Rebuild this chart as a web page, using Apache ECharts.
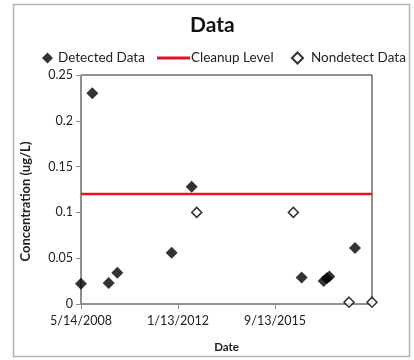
<!DOCTYPE html>
<html>
<head>
<meta charset="utf-8">
<script src="https://cdn.jsdelivr.net/npm/echarts@6/dist/echarts.min.js"></script>
<style>html,body{margin:0;padding:0;background:#fff}#c{width:414px;height:360px}</style>
</head>
<body>
<div id="c"></div>
<script>
const baseDate = '2008-05-14';
const detectedDates = ['2008-05-14','2008-10-17','2009-05-31','2009-09-27','2011-10-18','2012-07-20','2016-09-15','2017-07-16','2017-08-27','2017-10-02','2018-09-21'];
const detectedValues = [0.022,0.23,0.023,0.034,0.056,0.128,0.029,0.025,0.028,0.030,0.061];
const nondetectDates = ['2012-09-27','2016-05-23','2018-07-01','2019-05-14'];
const nondetectValues = [0.1,0.1,0.002,0.002];
const cleanupLevel = 0.12;
const cleanupDates = ['2008-05-14','2019-05-14'];
const xTickDays = 1339;

const DAY = 86400000;
const baseMs = Date.parse(baseDate + 'T00:00:00Z');
const toDay = s => Math.round((Date.parse(s + 'T00:00:00Z') - baseMs) / DAY);
const fmt = v => { const d = new Date(baseMs + v * DAY); return (d.getUTCMonth()+1) + '/' + d.getUTCDate() + '/' + d.getUTCFullYear(); };
const xMax = toDay(cleanupDates[1]);
const FONT = 'Lato';

const chart = echarts.init(document.getElementById('c'), null, {renderer:'canvas'});
chart.setOption({
  backgroundColor: '#fff',
  animation: false,
  title: { text: 'Data', left: 185, top: 10, textStyle: { fontFamily: FONT, fontSize: 21, fontWeight: 'bold', color: '#111' } },
  legend: [
    { data: ['Detected Data'], left: 37, top: 46, itemWidth: 11, itemHeight: 11, itemGap: 6, textStyle: { fontFamily: FONT, fontSize: 13.5, color: '#222' } },
    { data: [{ name: 'Cleanup Level', icon: 'rect' }], left: 152, top: 46, itemWidth: 33, itemHeight: 3, textStyle: { fontFamily: FONT, fontSize: 13.5, color: '#222', padding: [0,0,0,-4] } },
    { data: ['Nondetect Data'], left: 286, top: 46, itemWidth: 11, itemHeight: 11, textStyle: { fontFamily: FONT, fontSize: 13.5, color: '#222', padding: [0,0,0,3] } }
  ],
  graphic: [{ type: 'rect', shape: { x: 13.5, y: 4.5, width: 396, height: 352 }, style: { fill: 'none', stroke: '#b4b4b4', lineWidth: 1.5 }, silent: true }],
  grid: { left: 81, right: 42, top: 75, bottom: 56, show: true, borderColor: '#222', borderWidth: 1, backgroundColor: 'transparent' },
  xAxis: {
    type: 'value', min: 0, max: xMax, interval: xTickDays,
    name: 'Date', nameLocation: 'middle', nameGap: 37,
    nameTextStyle: { fontFamily: FONT, fontSize: 11.5, fontWeight: 'bold', color: '#222' },
    axisLine: { show: true, lineStyle: { color: '#8c8c8c', width: 1 } },
    axisTick: { show: true, length: 5, lineStyle: { color: '#8c8c8c' } },
    splitLine: { show: false },
    axisLabel: { formatter: fmt, showMaxLabel: false, fontFamily: FONT, fontSize: 12.5, color: '#222', margin: 10 }
  },
  yAxis: {
    type: 'value', min: 0, max: 0.25, interval: 0.05,
    name: 'Concentration (ug/L)', nameLocation: 'middle', nameGap: 49,
    nameTextStyle: { fontFamily: FONT, fontSize: 13, fontWeight: 'bold', color: '#222', padding: [0, 24, 0, 0] },
    axisLine: { show: true, lineStyle: { color: '#8c8c8c', width: 1 } },
    axisTick: { show: true, length: 5, lineStyle: { color: '#8c8c8c' } },
    splitLine: { show: false },
    axisLabel: { fontFamily: FONT, fontSize: 12.5, color: '#222', margin: 8 }
  },
  series: [
    { name: 'Detected Data', type: 'scatter', symbol: 'diamond', symbolSize: 12, itemStyle: { color: '#000' },
      data: detectedDates.map((d, i) => [toDay(d), detectedValues[i]]) },
    { name: 'Cleanup Level', type: 'line', symbol: 'none', lineStyle: { color: '#e8141c', width: 2.5 }, itemStyle: { color: '#e8141c' },
      data: cleanupDates.map(d => [toDay(d), cleanupLevel]) },
    { name: 'Nondetect Data', type: 'scatter', symbol: 'diamond', symbolSize: 10, clip: false,
      itemStyle: { color: '#fff', borderColor: '#000', borderWidth: 1.5 },
      data: nondetectDates.map((d, i) => [toDay(d), nondetectValues[i]]) }
  ]
});
</script>
</body>
</html>
